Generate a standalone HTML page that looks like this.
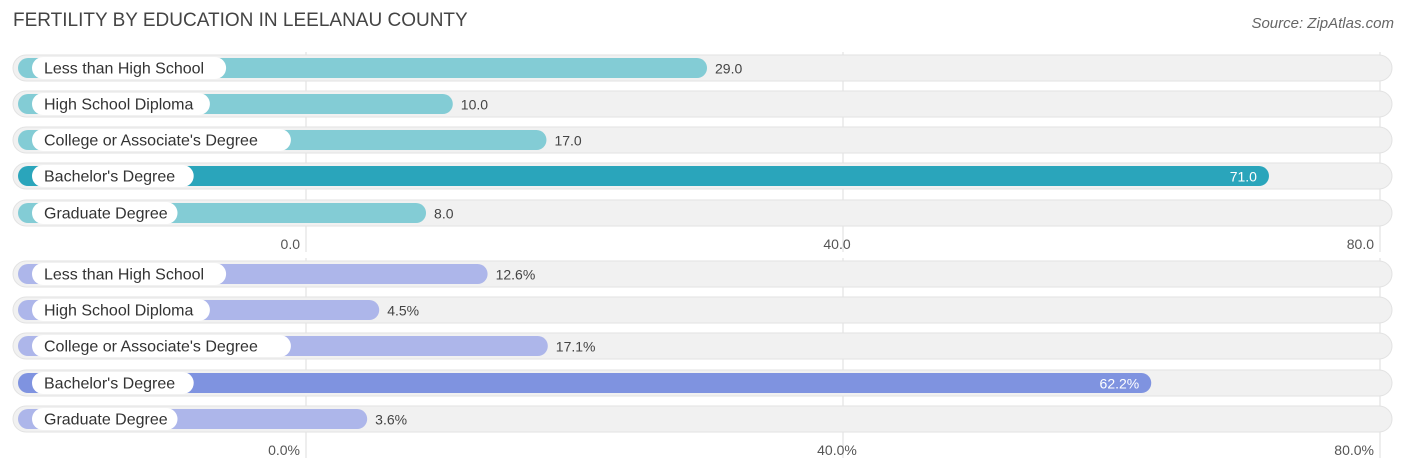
<!DOCTYPE html>
<html><head><meta charset="utf-8"><style>
body{margin:0;width:1406px;height:475px;background:#fff;font-family:"Liberation Sans",sans-serif;overflow:hidden;position:relative}
.t{position:absolute;white-space:nowrap}
</style></head><body>
<div class="t" style="left:13px;top:10px;font-size:19px;color:#444">FERTILITY BY EDUCATION IN LEELANAU COUNTY</div>
<div class="t" style="right:12px;top:15px;font-size:15px;color:#666;font-style:italic">Source: ZipAtlas.com</div>
<svg id="c" width="1406" height="475" style="position:absolute;left:0;top:0"></svg>
<script>
const categories=["Less than High School","High School Diploma","College or Associate's Degree","Bachelor's Degree","Graduate Degree"];
const topValues=[29.0,10.0,17.0,71.0,8.0];
const bottomValues=[12.6,4.5,17.1,62.2,3.6];
const topTicks=["0.0","40.0","80.0"];
const bottomTicks=["0.0%","40.0%","80.0%"];
const tickVals=[0,40,80];
const svg=document.getElementById('c');
const NS='http://www.w3.org/2000/svg';
function gx(v){return 306+v*13.425;}
function bx(v){return 319+v*13.38;}
function mk(tag,attrs,parent){const e=document.createElementNS(NS,tag);for(const k in attrs)e.setAttribute(k,attrs[k]);(parent||svg).appendChild(e);return e;}
function panel(vals,rowY,ticks,tickY,light,dark,suffix,name){
  const g=mk('g',{});
  
  
  tickVals.forEach((t,i)=>{
    const l=mk('line',{x1:gx(t),x2:gx(t),y1:rowY[0]-16,y2:tickY+8,stroke:'#ddd','stroke-width':1},g);
    
    
  });
  const max=Math.max(...vals);
  vals.forEach((v,i)=>{
    const y=rowY[i];
    const tr=mk('rect',{x:13,y:y-13,width:1379,height:26,rx:13,fill:'#f1f1f1',stroke:'#e2e2e2','stroke-width':1},g);
    
    
    const hi=v===max;
    const b=mk('rect',{x:18,y:y-10,width:bx(v)-18,height:20,rx:10,fill:hi?dark:light},g);
    
    
    const lw=categories[i].length*8.1+24;
    const p=mk('rect',{x:32,y:y-11,width:lw,height:22,rx:11,fill:'#fff'},g);
    
    
    const t=mk('text',{x:44,y:y+5.5,'font-size':16,fill:'#333'},g);
    t.textContent=categories[i];
    
    
    const val=v.toFixed(1)+suffix;
    const vt=mk('text',{x:hi?bx(v)-12:bx(v)+8,y:y+5.5,'font-size':14,fill:hi?'#fff':'#444','text-anchor':hi?'end':'start'},g);
    vt.textContent=val;
    
    
  });
  tickVals.forEach((t,i)=>{
    const tx=mk('text',{x:gx(t)-6,y:tickY+5,'font-size':14,fill:'#555','text-anchor':'end'},g);
    if(i===1)tx.setAttribute('text-anchor','middle'),tx.setAttribute('x',gx(t)-6);
    tx.textContent=ticks[i];
    
    
  });
}
panel(topValues,[68,104,140,176,213],topTicks,244,'#83ccd5','#2aa5bb','','top-panel');
panel(bottomValues,[274,310,346,383,419],bottomTicks,450,'#adb6ea','#7f93e0','%','bottom-panel');
</script>
</body></html>
